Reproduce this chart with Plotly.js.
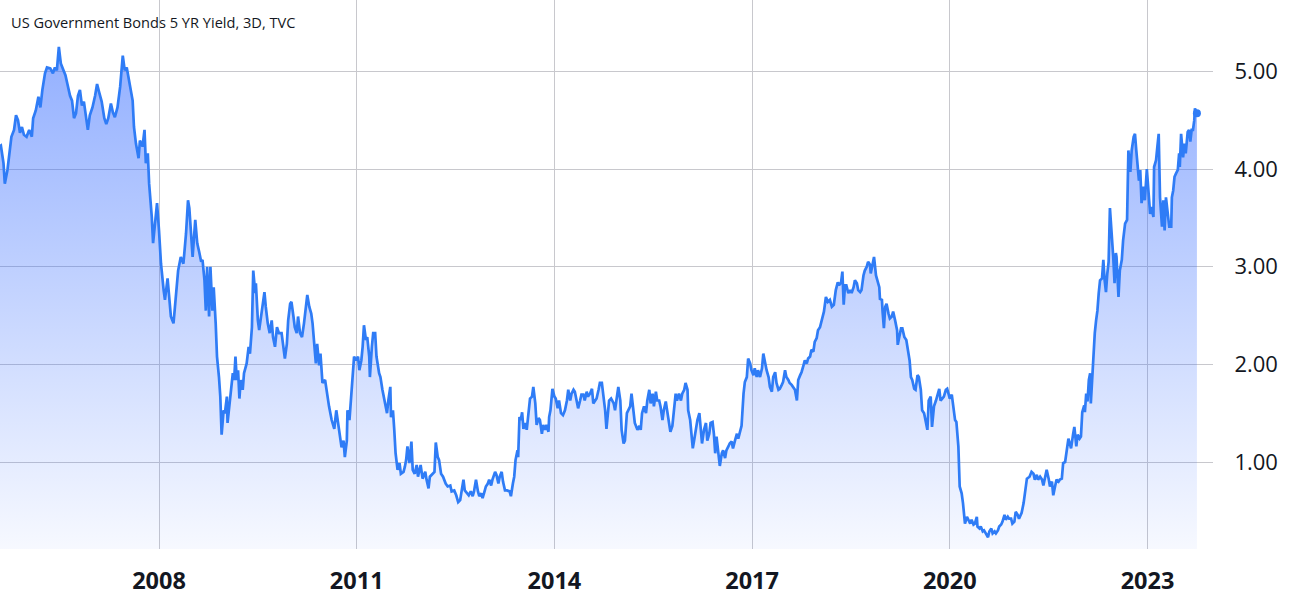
<!DOCTYPE html>
<html>
<head>
<meta charset="utf-8">
<script src="https://cdn.plot.ly/plotly-3.0.1.min.js"></script>
<style>
html,body{margin:0;padding:0;background:#fff;}
#chart{width:1292px;height:598px;}
</style>
</head>
<body>
<div id="chart"></div>
<script>
const chartTitle = "US Government Bonds 5 YR Yield, 3D, TVC";

// decimal year of each observation
const years = [
2005.55,2005.60,2005.64,2005.66,2005.70,2005.72,2005.76,2005.80,2005.83,2005.86,2005.89,2005.92,2005.95,2005.99,
2006.03,2006.07,2006.09,2006.13,2006.17,2006.20,2006.23,2006.27,2006.30,2006.35,2006.39,2006.42,2006.45,2006.48,2006.51,2006.55,2006.58,2006.61,2006.65,2006.68,2006.71,2006.74,2006.77,2006.80,2006.83,2006.86,2006.89,2006.92,2006.95,2006.99,
2007.03,2007.06,2007.09,2007.13,2007.17,2007.20,2007.23,2007.27,2007.30,2007.33,2007.37,2007.41,2007.45,2007.48,2007.51,2007.54,2007.57,2007.60,2007.62,2007.65,2007.69,2007.71,2007.75,2007.78,2007.80,2007.83,2007.85,2007.89,2007.91,2007.94,2007.97,
2008.00,2008.03,2008.07,2008.09,2008.13,2008.15,2008.18,2008.22,2008.26,2008.29,2008.33,2008.37,2008.41,2008.44,2008.46,2008.48,2008.51,2008.55,2008.58,2008.61,2008.64,2008.66,2008.69,2008.71,2008.73,2008.76,2008.78,2008.81,2008.83,2008.86,2008.88,2008.91,2008.93,2008.95,2008.98,
2009.00,2009.03,2009.04,2009.07,2009.09,2009.12,2009.14,2009.16,2009.18,2009.20,2009.22,2009.24,2009.27,2009.29,2009.33,2009.36,2009.38,2009.41,2009.43,2009.46,2009.47,2009.50,2009.52,2009.55,2009.57,2009.60,2009.62,2009.65,2009.68,2009.71,2009.73,2009.76,2009.79,2009.82,2009.86,2009.89,2009.91,2009.94,2009.96,2009.99,
2010.01,2010.04,2010.06,2010.09,2010.11,2010.14,2010.17,2010.20,2010.23,2010.25,2010.28,2010.31,2010.33,2010.35,2010.38,2010.40,2010.43,2010.45,2010.48,2010.52,2010.55,2010.58,2010.62,2010.66,2010.69,2010.71,2010.74,2010.77,2010.80,2010.82,2010.85,2010.86,2010.89,2010.91,2010.94,2010.96,2010.99,
2011.02,2011.04,2011.07,2011.09,2011.11,2011.14,2011.16,2011.19,2011.20,2011.23,2011.25,2011.28,2011.30,2011.34,2011.36,2011.39,2011.43,2011.46,2011.48,2011.51,2011.52,2011.55,2011.57,2011.59,2011.62,2011.65,2011.67,2011.71,2011.73,2011.75,2011.77,2011.80,2011.83,2011.85,2011.88,2011.91,2011.93,2011.97,
2012.00,2012.04,2012.06,2012.09,2012.11,2012.15,2012.18,2012.20,2012.23,2012.25,2012.28,2012.31,2012.35,2012.38,2012.42,2012.44,2012.48,2012.51,2012.54,2012.57,2012.59,2012.62,2012.64,2012.67,2012.70,2012.73,2012.76,2012.78,2012.81,2012.84,2012.86,2012.89,2012.91,2012.94,2012.96,2012.99,
2013.01,2013.04,2013.06,2013.10,2013.12,2013.15,2013.17,2013.20,2013.22,2013.25,2013.28,2013.32,2013.34,2013.37,2013.39,2013.41,2013.44,2013.45,2013.47,2013.49,2013.51,2013.53,2013.56,2013.58,2013.60,2013.63,2013.66,2013.68,2013.71,2013.73,2013.76,2013.78,2013.81,2013.83,2013.86,2013.88,2013.91,2013.92,2013.94,2013.97,
2014.00,2014.02,2014.05,2014.07,2014.10,2014.13,2014.16,2014.19,2014.21,2014.24,2014.26,2014.29,2014.31,2014.34,2014.36,2014.39,2014.41,2014.44,2014.46,2014.49,2014.51,2014.54,2014.57,2014.59,2014.62,2014.64,2014.67,2014.69,2014.72,2014.74,2014.77,2014.79,2014.81,2014.83,2014.86,2014.88,2014.90,2014.92,2014.95,2014.97,
2015.00,2015.02,2015.05,2015.07,2015.10,2015.12,2015.15,2015.17,2015.20,2015.22,2015.26,2015.29,2015.31,2015.33,2015.36,2015.39,2015.41,2015.44,2015.46,2015.49,2015.51,2015.54,2015.56,2015.59,2015.61,2015.64,2015.66,2015.69,2015.71,2015.74,2015.76,2015.79,2015.81,2015.84,2015.86,2015.89,2015.92,2015.94,2015.97,2015.99,
2016.02,2016.03,2016.06,2016.08,2016.10,2016.12,2016.15,2016.17,2016.20,2016.22,2016.24,2016.27,2016.30,2016.32,2016.35,2016.37,2016.40,2016.42,2016.44,2016.46,2016.49,2016.51,2016.54,2016.56,2016.59,2016.61,2016.64,2016.66,2016.69,2016.71,2016.74,2016.77,2016.79,2016.82,2016.84,2016.87,2016.89,2016.92,2016.94,2016.97,2016.99,
2017.02,2017.04,2017.07,2017.09,2017.12,2017.15,2017.17,2017.20,2017.22,2017.25,2017.27,2017.30,2017.32,2017.35,2017.37,2017.40,2017.42,2017.45,2017.47,2017.50,2017.52,2017.55,2017.57,2017.60,2017.62,2017.65,2017.68,2017.70,2017.73,2017.75,2017.78,2017.80,2017.83,2017.85,2017.88,2017.90,2017.93,2017.95,2017.98,
2018.00,2018.03,2018.06,2018.09,2018.12,2018.15,2018.18,2018.21,2018.24,2018.27,2018.30,2018.32,2018.35,2018.37,2018.39,2018.41,2018.43,2018.46,2018.49,2018.51,2018.54,2018.56,2018.59,2018.61,2018.64,2018.66,2018.69,2018.71,2018.74,2018.76,2018.79,2018.80,2018.83,2018.85,2018.88,2018.90,2018.93,2018.94,2018.97,2018.98,
2019.00,2019.02,2019.04,2019.07,2019.09,2019.12,2019.14,2019.17,2019.20,2019.21,2019.23,2019.26,2019.28,2019.31,2019.34,2019.36,2019.39,2019.41,2019.43,2019.46,2019.48,2019.51,2019.53,2019.56,2019.58,2019.61,2019.63,2019.66,2019.68,2019.71,2019.73,2019.76,2019.79,2019.81,2019.84,2019.86,2019.89,2019.91,2019.94,2019.96,2019.98,
2020.00,2020.03,2020.05,2020.08,2020.10,2020.13,2020.15,2020.18,2020.20,2020.23,2020.26,2020.28,2020.31,2020.33,2020.36,2020.38,2020.41,2020.42,2020.45,2020.47,2020.50,2020.52,2020.55,2020.58,2020.60,2020.63,2020.65,2020.68,2020.70,2020.73,2020.75,2020.78,2020.80,2020.83,2020.85,2020.88,2020.90,2020.93,2020.95,2020.98,
2021.00,2021.03,2021.05,2021.09,2021.12,2021.14,2021.17,2021.21,2021.24,2021.27,2021.29,2021.32,2021.34,2021.37,2021.40,2021.42,2021.45,2021.47,2021.50,2021.52,2021.55,2021.57,2021.60,2021.62,2021.65,2021.67,2021.70,2021.72,2021.75,2021.77,2021.80,2021.82,2021.84,2021.87,2021.89,2021.92,2021.94,2021.97,2021.99,
2022.01,2022.04,2022.05,2022.07,2022.09,2022.11,2022.13,2022.14,2022.16,2022.18,2022.20,2022.22,2022.24,2022.26,2022.28,2022.31,2022.33,2022.35,2022.37,2022.39,2022.41,2022.43,2022.46,2022.48,2022.50,2022.52,2022.53,2022.56,2022.58,2022.61,2022.63,2022.66,2022.69,2022.71,2022.74,2022.76,2022.79,2022.81,2022.83,2022.85,2022.87,2022.89,2022.91,2022.94,2022.96,2022.99,
2023.01,2023.04,2023.06,2023.09,2023.10,2023.13,2023.15,2023.17,2023.19,2023.22,2023.24,2023.26,2023.28,2023.31,2023.33,2023.36,2023.37,2023.39,2023.41,2023.43,2023.46,2023.48,2023.49,2023.51,2023.54,2023.56,2023.58,2023.61,2023.63,2023.65,2023.67,2023.69,2023.71,2023.72,2023.75
];

// 5-year yield, percent
const yields = [
4.22,4.24,4.06,3.85,3.99,4.12,4.33,4.40,4.55,4.50,4.37,4.43,4.35,4.33,
4.40,4.33,4.52,4.60,4.74,4.63,4.81,4.98,5.04,5.03,4.98,5.04,5.01,5.25,5.08,5.01,4.96,4.87,4.75,4.70,4.52,4.57,4.75,4.81,4.65,4.69,4.53,4.40,4.55,4.63,
4.75,4.87,4.79,4.69,4.52,4.46,4.52,4.67,4.58,4.53,4.63,4.84,5.16,5.01,5.04,4.91,4.82,4.70,4.43,4.26,4.11,4.29,4.23,4.40,4.06,4.16,3.85,3.51,3.24,3.44,3.65,
3.37,3.03,2.76,2.66,2.88,2.73,2.49,2.42,2.69,2.96,3.10,3.03,3.34,3.68,3.60,3.35,3.10,3.48,3.24,3.15,3.05,3.07,2.86,2.55,3.00,2.49,3.00,2.55,2.79,2.42,2.08,1.87,1.67,1.28,1.53,
1.50,1.67,1.40,1.60,1.74,1.91,1.84,2.08,1.84,1.94,1.65,1.84,1.74,1.91,2.01,2.18,2.11,2.38,2.96,2.73,2.83,2.45,2.35,2.52,2.62,2.74,2.59,2.42,2.32,2.45,2.28,2.18,2.38,2.32,2.32,2.18,2.06,2.21,2.45,2.62,
2.64,2.49,2.38,2.32,2.49,2.32,2.28,2.42,2.61,2.71,2.59,2.52,2.42,2.25,2.01,2.21,1.99,2.11,1.81,1.84,1.70,1.57,1.43,1.34,1.53,1.43,1.29,1.15,1.22,1.05,1.22,1.53,1.43,1.63,1.91,2.08,2.04,
2.08,1.94,2.04,2.18,2.40,2.25,2.28,2.08,1.87,2.18,2.32,2.32,2.08,1.91,1.87,1.74,1.60,1.50,1.63,1.77,1.46,1.53,1.33,1.09,0.92,0.99,0.88,0.90,0.95,1.02,1.16,0.99,1.21,0.92,0.88,0.97,0.85,0.97,
0.83,0.90,0.82,0.73,0.85,0.88,0.90,1.20,1.05,1.02,0.88,0.85,0.78,0.75,0.76,0.70,0.71,0.66,0.59,0.61,0.68,0.82,0.71,0.68,0.66,0.70,0.65,0.70,0.82,0.70,0.65,0.68,0.63,0.70,0.75,0.78,
0.82,0.76,0.82,0.90,0.87,0.78,0.85,0.90,0.80,0.71,0.71,0.70,0.65,0.78,0.85,1.02,1.12,1.05,1.46,1.43,1.51,1.34,1.40,1.33,1.46,1.65,1.67,1.77,1.60,1.38,1.45,1.43,1.29,1.38,1.33,1.38,1.31,1.46,1.53,1.75,
1.67,1.65,1.55,1.63,1.50,1.48,1.53,1.63,1.74,1.63,1.70,1.74,1.72,1.60,1.55,1.63,1.69,1.69,1.63,1.72,1.67,1.70,1.75,1.60,1.63,1.65,1.74,1.81,1.81,1.70,1.53,1.34,1.50,1.63,1.65,1.62,1.60,1.53,1.67,1.77,
1.63,1.33,1.19,1.22,1.50,1.53,1.57,1.70,1.53,1.40,1.33,1.37,1.33,1.50,1.57,1.50,1.63,1.74,1.60,1.70,1.57,1.72,1.63,1.63,1.57,1.43,1.53,1.62,1.53,1.40,1.31,1.37,1.50,1.70,1.63,1.70,1.63,1.70,1.74,1.81,
1.74,1.53,1.43,1.29,1.14,1.22,1.37,1.43,1.50,1.33,1.19,1.33,1.40,1.22,1.29,1.40,1.41,1.29,1.09,1.26,1.04,0.96,1.09,1.12,1.04,1.12,1.16,1.19,1.21,1.14,1.22,1.29,1.24,1.31,1.37,1.70,1.82,1.87,2.06,2.01,1.94,
1.89,1.96,1.87,1.94,1.87,1.96,2.11,1.99,1.94,1.87,1.77,1.72,1.87,1.92,1.81,1.74,1.75,1.79,1.82,1.94,1.87,1.84,1.81,1.79,1.77,1.74,1.63,1.84,1.89,1.92,1.99,2.04,2.01,2.06,2.08,2.15,2.13,2.23,2.27,
2.35,2.38,2.45,2.54,2.69,2.64,2.66,2.59,2.61,2.76,2.84,2.81,2.84,2.95,2.61,2.81,2.81,2.73,2.76,2.73,2.79,2.86,2.83,2.76,2.74,2.76,2.91,2.96,3.00,3.05,3.02,2.93,3.03,3.10,2.91,2.86,2.79,2.67,2.66,2.54,
2.37,2.59,2.62,2.52,2.47,2.49,2.54,2.45,2.35,2.20,2.28,2.37,2.37,2.28,2.25,2.18,2.04,1.87,1.84,1.75,1.74,1.89,1.87,1.74,1.53,1.50,1.43,1.33,1.63,1.67,1.36,1.57,1.63,1.67,1.75,1.63,1.65,1.67,1.74,1.75,1.70,
1.65,1.69,1.57,1.43,1.41,1.16,0.75,0.68,0.58,0.37,0.44,0.41,0.37,0.41,0.36,0.37,0.44,0.34,0.32,0.34,0.29,0.30,0.27,0.23,0.29,0.32,0.27,0.29,0.27,0.30,0.34,0.36,0.39,0.46,0.41,0.44,0.42,0.42,0.37,0.39,
0.49,0.46,0.42,0.48,0.58,0.68,0.83,0.85,0.90,0.88,0.82,0.87,0.82,0.85,0.82,0.76,0.87,0.92,0.83,0.75,0.80,0.66,0.76,0.82,0.80,0.82,0.83,0.99,1.00,1.09,1.24,1.19,1.14,1.28,1.36,1.16,1.28,1.24,1.26,
1.51,1.58,1.51,1.70,1.62,1.84,1.91,1.60,1.84,2.11,2.32,2.45,2.55,2.73,2.86,2.88,3.07,2.86,2.74,2.93,3.05,3.60,3.34,3.10,2.83,3.14,3.10,2.69,2.96,3.07,3.27,3.44,3.48,4.19,3.97,4.19,4.33,4.36,4.19,4.02,3.88,3.99,3.65,3.82,3.68,4.00,
3.82,3.54,3.61,3.51,4.02,4.09,4.23,4.36,3.71,3.41,3.68,3.37,3.71,3.54,3.41,3.41,3.71,3.78,3.92,3.95,3.99,4.16,4.02,4.36,4.12,4.26,4.16,4.38,4.40,4.28,4.40,4.40,4.50,4.62,4.57
];

const xTickYears = [2008, 2011, 2014, 2017, 2020, 2023];
const xTickLabels = ["2008", "2011", "2014", "2017", "2020", "2023"];
const yTickValues = [1, 2, 3, 4, 5];
const yTickLabels = ["1.00", "2.00", "3.00", "4.00", "5.00"];

const lineColor = "#2f7cf6";
const Y_MIN = 0.11, Y_MAX = 5.73;

const area = {
  x: years, y: yields,
  type: "scatter", mode: "lines",
  line: {color: lineColor, width: 2.7},
  fill: "tozeroy",
  fillgradient: {
    type: "vertical",
    start: Y_MIN, stop: Y_MAX,
    colorscale: [[0, "rgba(41,98,255,0.04)"], [1, "rgba(41,98,255,0.55)"]]
  },
  hoverinfo: "skip"
};

const lastPoint = {
  x: [years[years.length - 1]], y: [yields[yields.length - 1]],
  type: "scatter", mode: "markers",
  marker: {color: lineColor, size: 8},
  hoverinfo: "skip"
};

const layout = {
  width: 1292, height: 598,
  margin: {l: 0, r: 79, t: 0, b: 49, pad: 0},
  paper_bgcolor: "#ffffff",
  plot_bgcolor: "#ffffff",
  showlegend: false,
  font: {family: '"Open Sans", "Noto Sans", sans-serif', color: "#131722"},
  xaxis: {
    range: [2005.587, 2023.994],
    tickvals: xTickYears, ticktext: xTickLabels,
    showgrid: true, gridcolor: "#c8c8cd", gridwidth: 1,
    zeroline: false, showline: false,
    ticks: "outside", ticklen: 11, tickcolor: "rgba(0,0,0,0)",
    tickfont: {size: 23.5, weight: 700, color: "#131722"},
    fixedrange: true
  },
  yaxis: {
    side: "right",
    range: [Y_MIN, Y_MAX],
    tickvals: yTickValues, ticktext: yTickLabels,
    showgrid: true, gridcolor: "#c8c8cd", gridwidth: 1,
    zeroline: false, showline: false,
    ticks: "outside", ticklen: 16, tickcolor: "rgba(0,0,0,0)",
    tickfont: {size: 22, color: "#131722"},
    fixedrange: true
  },
  annotations: [{
    text: chartTitle,
    xref: "paper", yref: "paper", x: 0, y: 1,
    xanchor: "left", yanchor: "top",
    xshift: 9, yshift: -10,
    showarrow: false,
    font: {size: 14.6, color: "#131722"}
  }]
};

Plotly.newPlot("chart", [area, lastPoint], layout, {displayModeBar: false, staticPlot: true});
</script>
</body>
</html>
